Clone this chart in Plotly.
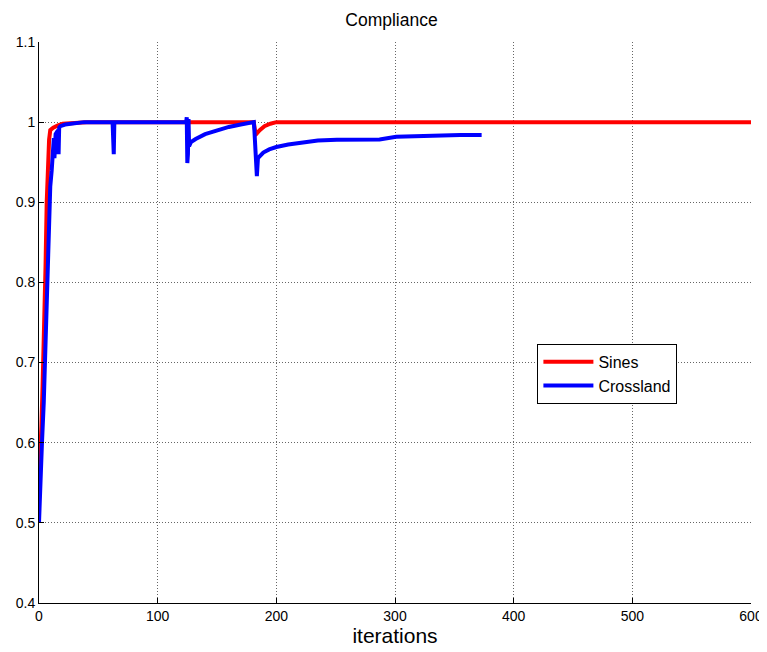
import plotly.graph_objects as go

# Sines (red) series
sines_x = [0, 1, 2, 3, 4, 5, 5.5, 6.5, 7.5, 8.5, 9.5, 12, 16, 20, 30, 40, 124, 181, 182, 183.6, 186, 190, 195, 200, 600]
sines_y = [0.55, 0.58, 0.62, 0.67, 0.72, 0.78, 0.82, 0.90, 0.95, 0.978, 0.99, 0.993, 0.996, 0.998, 0.999, 1.0, 1.0, 1.0, 0.99, 0.986, 0.99, 0.995, 0.998, 1.0, 1.0]

# Crossland (blue) series
cross_x = [0, 1, 2.5, 4, 5, 6, 6.7, 7.5, 8.4, 9.5, 10.7, 12, 12.5, 13, 14, 16, 16.5, 17, 18, 22, 30, 38,
           62, 63, 63.5, 64, 124, 124.5, 125, 125.5, 126, 126.5, 128, 132, 140, 150, 160, 170, 180,
           181, 181.5, 183.6, 184.5, 186, 189, 194, 200, 210, 222, 235, 251, 265, 279, 287, 301, 321, 340, 355, 373]
cross_y = [0.5, 0.56, 0.6, 0.65, 0.7, 0.75, 0.8, 0.85, 0.9, 0.92, 0.94, 0.965, 0.98, 0.955, 0.985, 0.99, 0.96, 0.993, 0.995, 0.997, 0.999, 1.0,
           1.0, 0.96, 1.0, 1.0, 1.0, 1.006, 0.949, 0.96, 1.004, 0.97, 0.975, 0.979, 0.985, 0.99, 0.994, 0.997, 1.0,
           1.0, 0.99, 0.9325, 0.955, 0.958, 0.962, 0.966, 0.969, 0.972, 0.975, 0.977, 0.978, 0.978, 0.978, 0.9784, 0.9817, 0.983, 0.983, 0.984, 0.984]

x_ticks = [0, 100, 200, 300, 400, 500, 600]
y_ticks = [0.4, 0.5, 0.6, 0.7, 0.8, 0.9, 1.0, 1.1]
y_ticktext = ["0.4", "0.5", "0.6", "0.7", "0.8", "0.9", "1", "1.1"]

fig = go.Figure()
fig.add_trace(go.Scatter(x=sines_x, y=sines_y, mode="lines", name="Sines",
                         line=dict(color="#ff0000", width=4)))
fig.add_trace(go.Scatter(x=cross_x, y=cross_y, mode="lines", name="Crossland",
                         line=dict(color="#0000ff", width=4)))

font_family = "Liberation Sans, Arial, sans-serif"
fig.update_layout(
    width=767, height=644,
    margin=dict(l=31, r=24, t=34, b=49, autoexpand=False),
    paper_bgcolor="white", plot_bgcolor="white",
    font=dict(family=font_family, color="black", size=14),
    title=dict(text="Compliance", x=0.5, xanchor="center", y=0.982, yanchor="middle",
               font=dict(size=17.5, family=font_family, color="black")),
    showlegend=True,
    legend=dict(x=0.70, y=0.462, xanchor="left", yanchor="top",
                bgcolor="white", bordercolor="black", borderwidth=1,
                font=dict(size=16, family=font_family), itemwidth=50,
                tracegroupgap=0),
)
fig.update_xaxes(
    range=[0, 600], tickvals=x_ticks, ticks="inside", ticklen=5, tickcolor="black",
    showline=True, linecolor="black", linewidth=1, mirror=False, automargin=False,
    showgrid=True, gridcolor="#666666", griddash="1px,2px", gridwidth=1, zeroline=False,
    title=dict(text="iterations", font=dict(size=21, family=font_family), standoff=5),
    tickfont=dict(size=14), ticklabeloverflow="allow",
)
fig.update_yaxes(
    range=[0.4, 1.1], tickvals=y_ticks, ticktext=y_ticktext, ticks="inside", ticklen=5, tickcolor="black",
    showline=True, linecolor="black", linewidth=1, mirror=False, automargin=False,
    showgrid=True, gridcolor="#666666", griddash="1px,2px", gridwidth=1, zeroline=False,
    tickfont=dict(size=14),
)

fig.write_html("out.html")
